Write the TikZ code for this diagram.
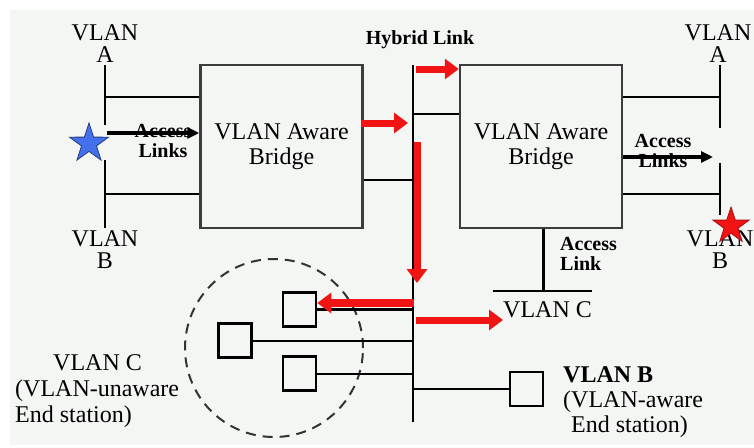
\documentclass[tikz,border=0pt]{standalone}
\usepackage{fontspec}
\setmainfont{Liberation Serif}
\definecolor{vlanred}{HTML}{F01414}
\definecolor{vlanblue}{HTML}{4470EC}
\definecolor{panelgray}{HTML}{F4F6F4}
\definecolor{boxgray}{HTML}{3C3C3C}
\usepackage{tikz}
\usetikzlibrary{arrows.meta, shapes.geometric, positioning, calc}
\tikzset{
	bridgebox/.style={draw=boxgray, line width=2.5pt, minimum width=162pt, minimum height=163pt,
		align=center, font=\fontsize{24}{25}\selectfont},
	stationbox/.style={draw=black, line width=2.5pt, minimum width=33pt, minimum height=34pt, inner sep=0pt},
	link/.style={line width=2pt, black},
	redarrow/.style={line width=7pt, vlanred, -{Triangle[length=14pt,width=20pt]}},
	accessarrow/.style={line width=3.5pt, black, -{Triangle[length=12pt,width=11pt]}},
	vlanlabel/.style={align=center, inner sep=0pt, font=\fontsize{24}{22}\selectfont},
	smallbold/.style={align=center, inner sep=0pt, font=\fontsize{20}{20}\selectfont\bfseries},
	vlanstar/.style={star, star points=5, star point ratio=2.6, inner sep=0pt, line width=0.8pt}
}

\begin{document}
\begin{tikzpicture}[x=1pt,y=-1pt]
	\useasboundingbox (0,0) rectangle (754,447);
	\fill[panelgray] (10,10) rectangle (754,445);

	\node[bridgebox] (bridgeL) at (281.5,146.5) {VLAN Aware\\Bridge};
	\node[bridgebox] (bridgeR) at (541,146.5) {VLAN Aware\\Bridge};

	\node[vlanlabel] (vlanAL) at (105,44) {VLAN\\A};
	\node[vlanlabel] (vlanBL) at (105,250) {VLAN\\B};
	\node[vlanlabel] (vlanAR) at (718,44) {VLAN\\A};
	\node[vlanlabel] (vlanBR) at (720,250) {VLAN\\B};
	\node[smallbold] (hybTxt) at (420,40) {Hybrid Link};

	\coordinate (hybTop) at (413,65);
	\coordinate (hybBot) at (413,422);
	\draw[link, line width=2.5pt] (hybTop) -- (hybBot);

	\coordinate (busLtop) at (105,65);
	\coordinate (busLgapA) at (105,125);
	\coordinate (busLgapB) at (105,160);
	\coordinate (busLbot) at (105,228);
	\draw[link] (busLtop) -- (busLgapA) (busLgapB) -- (busLbot);
	\coordinate (busRtop) at (720,65);
	\coordinate (busRgapA) at (720,128);
	\coordinate (busRgapB) at (720,163);
	\coordinate (busRbot) at (720,215);
	\draw[link] (busRtop) -- (busRgapA) (busRgapB) -- (busRbot);

	\foreach \tap in {97,194}{
		\draw[link] (busLtop |- 0,\tap) -- (bridgeL.west |- 0,\tap);
		\draw[link] (bridgeR.east |- 0,\tap) -- (busRtop |- 0,\tap);
	}
	\draw[link] (bridgeL.east |- 0,180) -- (hybTop |- 0,180);
	\draw[link] (hybTop |- 0,114) -- (bridgeR.west |- 0,114);

	\node[vlanstar, minimum size=41pt, fill=vlanblue, draw=vlanblue!55!black] (starBlue) at (89,143.5) {};
	\coordinate (accL) at (107,133);
	\draw[accessarrow] (accL) -- (accL -| bridgeL.west);
	\node[smallbold] (accLTxt) at (163,141) {Access\\Links};

	\coordinate (accR) at (713,157);
	\draw[accessarrow] (accR -| bridgeR.east) -- (accR);
	\node[smallbold] (accRTxt) at (663,151) {Access\\Links};
	\node[vlanstar, minimum size=38pt, fill=vlanred, draw=vlanred!70!black] (starRed) at (731,226) {};

	\coordinate (busC) at (543,291);
	\draw[link, line width=3pt] (bridgeR.south -| busC) -- (busC);
	\draw[link] ($(busC)+(-50,0)$) -- ($(busC)+(49,0)$);
	\node[smallbold, align=left, anchor=west] (accCTxt) at (560,254) {Access\\Link};
	\node[vlanlabel, anchor=west] (vlanC) at (503,310) {VLAN C};

	\node[draw=black!80, circle, dashed, line width=2pt, dash pattern=on 10pt off 7pt,
		minimum size=178pt] (unawareGroup) at (274,348) {};
	\foreach \name/\px/\py in {s1/299.5/309.5, s2/235/340.5, s3/299.5/373.5, s4/526.5/389}
		\node[stationbox] (\name) at (\px,\py) {};
	\draw[link, line width=3pt] (s1.east) -- (s1.east -| hybTop);
	\foreach \name in {s2,s3}
		\draw[link] (\name.east) -- (\name.east -| hybTop);
	\draw[link] (s4.west) -- (s4.west -| hybTop);

	\coordinate (redA) at (416,69);
	\draw[redarrow] (redA) -- (redA -| bridgeR.west);
	\coordinate (redB) at (361,123);
	\coordinate (redBend) at (408,123);
	\draw[redarrow] (redB) -- (redBend);
	\coordinate (redC) at (417,142);
	\coordinate (redCend) at (417,283);
	\draw[redarrow] (redC) -- (redCend);
	\coordinate (redD) at (414,303);
	\draw[redarrow, line width=8pt] (redD) -- (redD -| s1.east);
	\coordinate (redE) at (416,320);
	\draw[redarrow] (redE) -- (redE -| vlanC.west);

	\node[align=left, anchor=west, inner sep=0pt, font=\fontsize{24}{26}\selectfont] (unawareTxt) at (15,391)
		{\hspace*{38pt}VLAN C\\(VLAN-unaware\\End station)};
	\node[align=left, anchor=west, inner sep=0pt, font=\fontsize{24}{25}\selectfont] (awareTxt) at (563,402)
		{\textbf{VLAN B}\\(VLAN-aware\\\hspace*{8pt}End station)};
\end{tikzpicture}
\end{document}
